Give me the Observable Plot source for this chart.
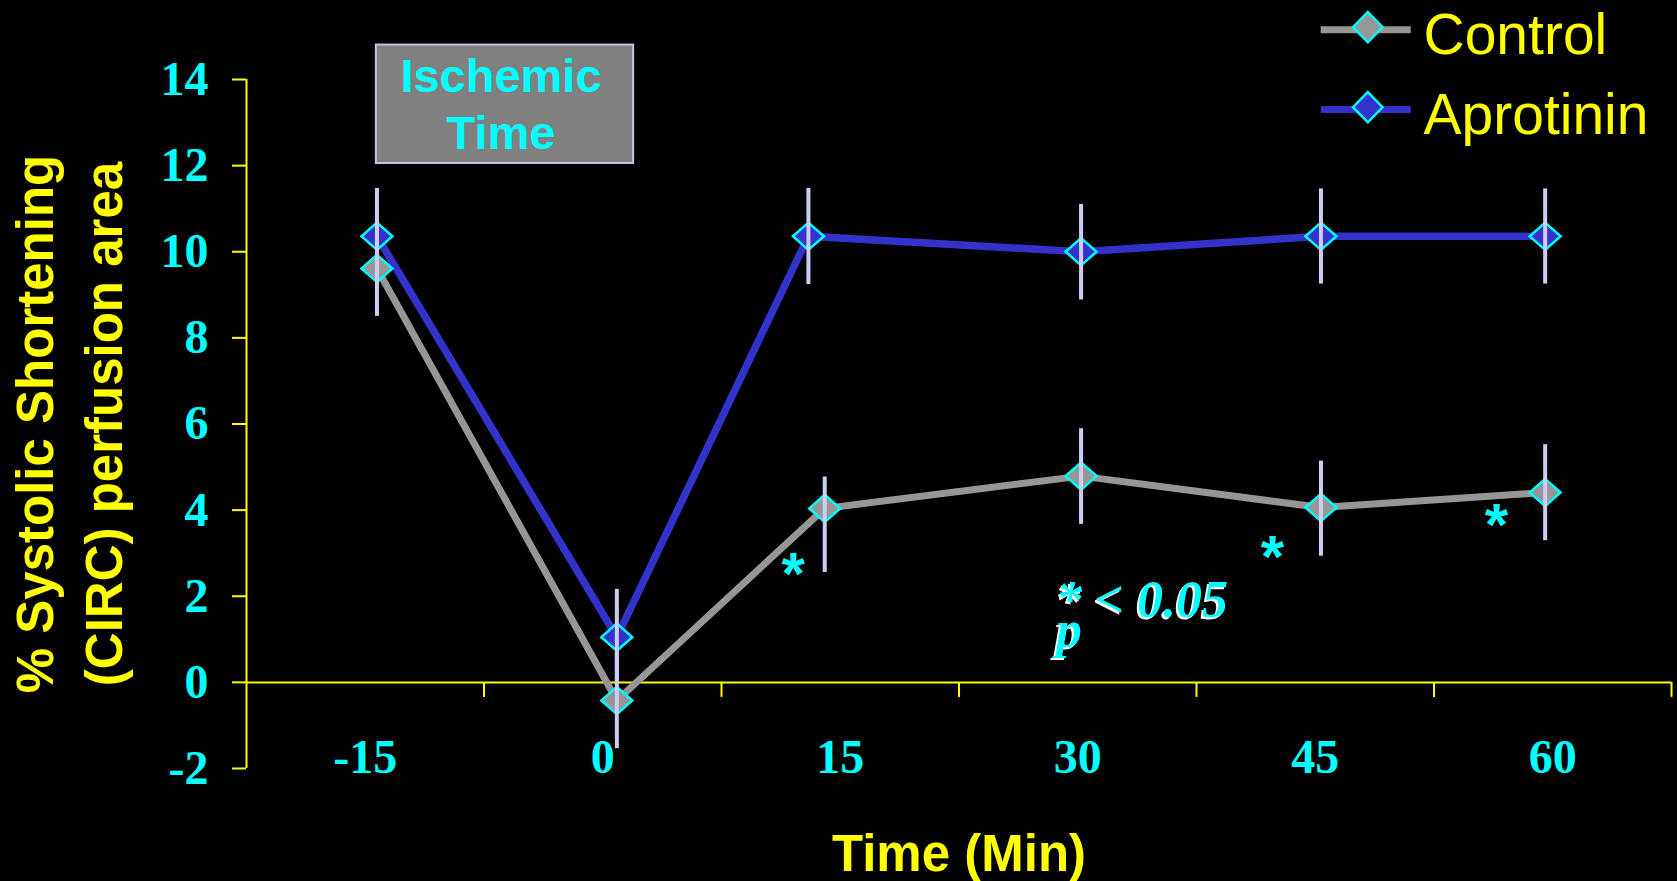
<!DOCTYPE html>
<html><head><meta charset="utf-8">
<script src="https://cdn.jsdelivr.net/npm/d3@7"></script>
<script src="https://cdn.jsdelivr.net/npm/@observablehq/plot@0.6"></script>
<style>
html,body{margin:0;padding:0;background:#000;}
#chart{width:1677px;height:881px;overflow:hidden;background:#000}
</style></head><body><div id="chart"></div>
<script>
// ---------- data ----------
const timeTicks = [-15, 0, 15, 30, 45, 60];
const yTicks = [-2, 0, 2, 4, 6, 8, 10, 12, 14];
const seriesNames = ["Control", "Aprotinin"];

const controlTime  = [-14.26, 0.89, 14.02, 30.21, 45.36, 59.52];
const controlValue = [9.61, -0.42, 4.04, 4.79, 4.06, 4.41];
const controlLow   = [8.50, -1.54, 2.55, 3.67, 2.93, 3.29];
const controlHigh  = [10.72, 0.70, 4.77, 5.89, 5.14, 5.52];

const aprotininTime  = [-14.26, 0.89, 12.99, 30.21, 45.36, 59.52];
const aprotininValue = [10.36, 1.05, 10.36, 10.00, 10.36, 10.36];
const aprotininLow   = [9.26, -0.05, 9.24, 8.88, 9.25, 9.25];
const aprotininHigh  = [11.47, 2.16, 11.47, 11.10, 11.46, 11.46];

const ischemicLabel = "Ischemic\nTime";
const ischemicSpan = [{x1: -14.3, x2: 1.95, y1: 12.05, y2: 14.8}];
const sigMarks = [{t: 12.02, v: 2.83}, {t: 42.3, v: 3.21}, {t: 56.45, v: 3.95}];
const pStarP = [{t: 29.45, v: 0.81, text: "*\np"}];
const pValue = [{t: 31.05, v: 1.51, text: "< 0.05"}];

const yLabel = "% Systolic Shortening\n(CIRC) perfusion area";
const xLabel = "Time (Min)";

// ---------- layout / style ----------
const W = 1677, H = 881;
const M = {top: 79, right: 6, bottom: 113, left: 246};
const xDomain = [-22.5, 67.5], yDomain = [-2, 14];
const YELLOW = "#ffff00", CYAN = "#00ffff", GRAY = "#969696", BLUE = "#3333cc", BAR = "#ccccf5";
const colors = {Control: GRAY, Aprotinin: BLUE};
const SANS = "'Liberation Sans', Arial, sans-serif";
const SERIF = "'Liberation Serif', 'Times New Roman', serif";

// pixel -> data helpers (same domain/range as the plot) for the legend
const px2x = d3.scaleLinear().domain([M.left, W - M.right]).range(xDomain);
const px2y = d3.scaleLinear().domain([H - M.bottom, M.top]).range(yDomain);

function diamond(wf, hf) {
  return {draw(ctx, size) {
    const r = Math.sqrt(size / Math.PI);
    const w = r * wf, h = r * hf;
    ctx.moveTo(0, -h); ctx.lineTo(w, 0); ctx.lineTo(0, h); ctx.lineTo(-w, 0); ctx.closePath();
  }};
}
const dataDiamond = diamond(1, 0.88);
const legendDiamond = diamond(1, 1.02);

const rows = (name, T, V, L, Hh) => T.map((t, i) => ({series: name, t, v: V[i], lo: L[i], hi: Hh[i]}));
const control = rows("Control", controlTime, controlValue, controlLow, controlHigh);
const aprotinin = rows("Aprotinin", aprotininTime, aprotininValue, aprotininLow, aprotininHigh);
const all = [...control, ...aprotinin];

const bandEdges = timeTicks.map(t => t + 7.5);

const legendRows = seriesNames.map((name, i) => ({
  name,
  lineY: px2y(29.3 + 79.7 * i),
  dotY: px2y(26.7 + 80 * i),
  textY: px2y(53.3 + 80 * i)
}));
const legX1 = px2x(1320.7), legX2 = px2x(1410.7), legDot = px2x(1367.3), legText = px2x(1423);

const pStyle = {x: "t", y: "v", text: "text", lineAnchor: "bottom", lineHeight: 0.577, fill: CYAN,
  fontFamily: SERIF, fontWeight: "bold", fontStyle: "italic", fontSize: 52, ariaDescription: "pnote"};

const chart = Plot.plot({
  width: W, height: H,
  marginTop: M.top, marginRight: M.right, marginBottom: M.bottom, marginLeft: M.left,
  x: {domain: xDomain, axis: null},
  y: {domain: yDomain, axis: null},
  style: {background: "#000", overflow: "visible"},
  marks: [
    // ischemic time box
    Plot.rect(ischemicSpan, {x1: "x1", x2: "x2", y1: "y1", y2: "y2", fill: "#808080", stroke: "#c4c4ec", strokeWidth: 2}),
    Plot.text(ischemicSpan, {x: d => (d.x1 + d.x2) / 2, y: d => (d.y1 + d.y2) / 2, text: () => ischemicLabel,
      fill: CYAN, fontFamily: SANS, fontWeight: "bold", fontSize: 47, lineHeight: 1.21, dx: -4, dy: -2}),

    // axes
    Plot.ruleX([xDomain[0]], {stroke: YELLOW, strokeWidth: 2}),
    Plot.axisY(yTicks, {tickSize: 14, tickPadding: 24, stroke: YELLOW, strokeWidth: 2, fill: CYAN,
      fontFamily: SERIF, fontWeight: "bold", fontSize: 48, tickFormat: d => String(d), label: null}),
    Plot.ruleY([0], {stroke: YELLOW, strokeWidth: 2}),
    Plot.ruleX(bandEdges, {y1: 0, y2: 0, insetBottom: -15, stroke: YELLOW, strokeWidth: 2}),
    Plot.text(timeTicks, {x: d => d, text: d => String(d), frameAnchor: "bottom", lineAnchor: "bottom", dy: 4,
      fill: CYAN, fontFamily: SERIF, fontWeight: "bold", fontSize: 48}),

    // series lines
    Plot.line(control, {x: "t", y: "v", stroke: GRAY, strokeWidth: 7}),
    Plot.line(aprotinin, {x: "t", y: "v", stroke: BLUE, strokeWidth: 7.5}),
    // markers
    Plot.dot(all, {x: "t", y: "v", symbol: dataDiamond, r: 15.5, fill: d => colors[d.series], stroke: CYAN, strokeWidth: 2.5}),
    // error bars
    Plot.ruleX(all, {x: "t", y1: "lo", y2: "hi", stroke: BAR, strokeWidth: 4}),

    // significance asterisks
    Plot.text(sigMarks, {x: "t", y: "v", text: () => "*", fill: CYAN, fontFamily: SANS, fontWeight: "bold", fontSize: 60, dy: 14}),

    // p < 0.05 note (white drop shadow added below)
    Plot.text(pStarP, {...pStyle, textAnchor: "middle"}),
    Plot.text(pValue, {...pStyle, textAnchor: "start"}),

    // axis titles
    Plot.text([yLabel], {text: d => d, frameAnchor: "left", textAnchor: "middle", lineAnchor: "middle", rotate: -90, dx: -181, lineHeight: 1.36,
      fill: YELLOW, fontFamily: SANS, fontWeight: "bold", fontSize: 51}),
    Plot.text([xLabel], {text: d => d, frameAnchor: "bottom", lineAnchor: "bottom", dy: 102,
      fill: YELLOW, fontFamily: SANS, fontWeight: "bold", fontSize: 51}),

    // legend
    Plot.ruleY(legendRows, {y: "lineY", x1: legX1, x2: legX2, stroke: d => colors[d.name], strokeWidth: 7}),
    Plot.dot(legendRows, {x: legDot, y: "dotY", symbol: legendDiamond, r: 14.8, fill: d => colors[d.name], stroke: CYAN, strokeWidth: 2.5}),
    Plot.text(legendRows, {x: legText, y: "textY", text: "name", textAnchor: "start", lineAnchor: "bottom",
      fill: YELLOW, fontFamily: SANS, fontSize: 57})
  ]
});

// white offset shadow for the p-value note
const svgNS = "http://www.w3.org/2000/svg";
const defs = document.createElementNS(svgNS, "defs");
defs.innerHTML = '<filter id="pshadow" x="-20%" y="-20%" width="140%" height="140%">' +
  '<feDropShadow dx="-2" dy="2" stdDeviation="0" flood-color="#ffffff" flood-opacity="1"/></filter>';
chart.insertBefore(defs, chart.firstChild);
let noteGroups = [...chart.querySelectorAll('[aria-description="pnote"]')];
if (!noteGroups.length) {
  noteGroups = [...chart.querySelectorAll("text")].filter(t => /0\.05|\*p/.test(t.textContent)).map(t => t.parentNode);
}
noteGroups.forEach(g => g.setAttribute("filter", "url(#pshadow)"));

document.getElementById("chart").appendChild(chart);
</script>
</body></html>
